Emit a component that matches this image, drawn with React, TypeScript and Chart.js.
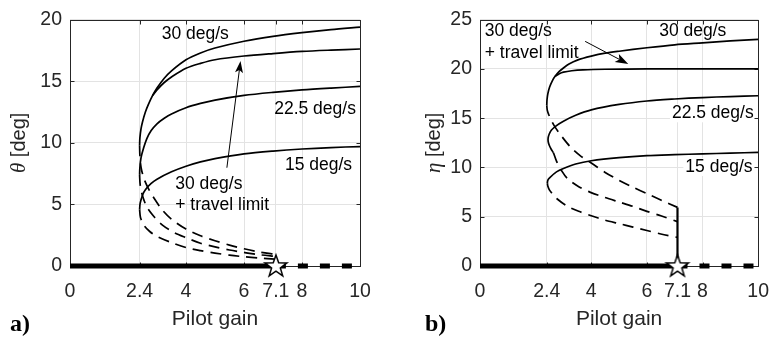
import React, { useEffect, useRef } from "react";
import { Chart, registerables } from "chart.js";

Chart.register(...registerables);

type Pt = [number, number];

// ---------------- shared axis data ----------------
const gainTicks = [0, 2.4, 4, 6, 7.1, 8, 10];
const thetaTicks = [0, 5, 10, 15, 20];
const etaTicks = [0, 5, 10, 15, 20, 25];
const hopfGain = 7.1;

// trivial equilibrium branch (y = 0)
const zeroStable: Pt[] = [[0, 0], [7.1, 0]];
const zeroUnstable: Pt[] = [[7.1, 0], [10, 0]];

// ---------------- panel a : theta ----------------
const thetaStable30: Pt[] = [
  [2.4, 9.8], [2.41, 10.4], [2.45, 11.15], [2.5, 11.7], [2.6, 12.5], [2.7, 13.1],
  [2.85, 13.85], [3.0, 14.45], [3.25, 15.25], [3.5, 15.85], [4, 16.75], [4.5, 17.3],
  [5, 17.7], [6, 18.25], [7, 18.65], [8, 18.95], [9, 19.2], [10, 19.4],
];
const thetaStableTravel: Pt[] = [
  [2.85, 13.85], [3.0, 14.3], [3.25, 14.9], [3.5, 15.35], [4, 16.05], [4.5, 16.45],
  [5, 16.75], [6, 17.05], [7, 17.25], [8, 17.42], [9, 17.53], [10, 17.62],
];
const thetaStable22: Pt[] = [
  [2.4, 7.4], [2.41, 8.0], [2.45, 8.8], [2.54, 9.6], [2.65, 10.35], [2.8, 11.0],
  [3.0, 11.55], [3.25, 12.0], [3.5, 12.35], [4, 12.85], [4.5, 13.2], [5, 13.47],
  [6, 13.85], [7, 14.1], [8, 14.3], [9, 14.45], [10, 14.58],
];
const thetaStable15: Pt[] = [
  [2.4, 4.6], [2.42, 5.1], [2.5, 5.75], [2.6, 6.2], [2.8, 6.7], [3.0, 7.05],
  [3.5, 7.65], [4, 8.1], [4.5, 8.45], [5, 8.72], [6, 9.1], [7, 9.33], [8, 9.5],
  [9, 9.62], [10, 9.7],
];
const thetaUnstable30: Pt[] = [
  [2.4, 9.8], [2.41, 9.0], [2.45, 8.0], [2.55, 7.1], [2.7, 6.3], [2.9, 5.5],
  [3.2, 4.5], [3.5, 3.8], [4, 3.0], [4.5, 2.45], [5, 2.05], [5.5, 1.7], [6, 1.4],
  [6.5, 1.15], [7.1, 0.95],
];
const thetaUnstable22: Pt[] = [
  [2.4, 7.4], [2.42, 6.6], [2.5, 5.7], [2.65, 4.8], [2.9, 4.0], [3.2, 3.3],
  [3.6, 2.7], [4, 2.3], [4.5, 1.85], [5, 1.55], [5.5, 1.3], [6, 1.1], [6.5, 0.92],
  [7.1, 0.78],
];
const thetaUnstable15: Pt[] = [
  [2.4, 4.6], [2.43, 3.95], [2.55, 3.3], [2.75, 2.8], [3.0, 2.4], [3.5, 1.9],
  [4, 1.5], [4.5, 1.25], [5, 1.05], [5.5, 0.88], [6, 0.75], [6.5, 0.65], [7.1, 0.55],
];

// ---------------- panel b : eta ----------------
const etaStable30: Pt[] = [
  [2.4, 16.3], [2.41, 16.9], [2.44, 17.5], [2.5, 18.15], [2.6, 18.8], [2.7, 19.25],
  [2.85, 19.75], [3.0, 20.1], [3.2, 20.5], [3.5, 20.9], [4, 21.3], [4.5, 21.6],
  [5, 21.8], [6, 22.15], [7, 22.45], [8, 22.65], [9, 22.85], [10, 23.0],
];
const etaStableTravel: Pt[] = [
  [2.7, 19.25], [2.85, 19.52], [3.0, 19.68], [3.3, 19.82], [3.7, 19.91], [4.5, 19.97],
  [6, 20], [10, 20],
];
const etaStable22: Pt[] = [
  [2.64, 11.5], [2.56, 11.85], [2.49, 12.25], [2.45, 12.65], [2.45, 13.0], [2.49, 13.4],
  [2.57, 13.8], [2.75, 14.25], [3.0, 14.7], [3.44, 15.3], [4, 15.85], [5, 16.4],
  [6, 16.75], [7, 16.95], [8, 17.1], [9, 17.2], [10, 17.28],
];
const etaStable15: Pt[] = [
  [2.42, 8.4], [2.44, 8.72], [2.52, 9.0], [2.75, 9.55], [3.0, 9.9], [3.44, 10.35],
  [4, 10.68], [5, 11.0], [6, 11.2], [7, 11.3], [8, 11.38], [9, 11.46], [10, 11.53],
];
const etaUnstable30: Pt[] = [
  [2.4, 16.3], [2.42, 15.8], [2.48, 15.3], [2.58, 14.7], [2.7, 14.1], [2.9, 13.3],
  [3.26, 12.05], [3.6, 11.2], [4, 10.45], [4.5, 9.5], [5, 8.7], [5.5, 8.0],
  [6, 7.35], [6.5, 6.7], [7.1, 5.95],
];
const etaUnstable22: Pt[] = [
  [2.64, 11.5], [2.75, 10.65], [2.95, 9.6], [3.15, 8.85], [3.55, 8.05], [3.95, 7.5],
  [4.5, 6.95], [5, 6.5], [5.5, 6.05], [6, 5.55], [6.5, 5.1], [7.1, 4.5],
];
const etaUnstable15: Pt[] = [
  [2.42, 8.4], [2.44, 8.1], [2.5, 7.7], [2.6, 7.35], [2.8, 6.75], [3.15, 6.05],
  [3.6, 5.5], [4, 5.1], [4.5, 4.65], [5, 4.3], [5.5, 3.95], [6, 3.6], [6.5, 3.25],
  [7.1, 2.9],
];
const etaTravelJump: Pt[] = [[7.1, 0], [7.1, 5.95]];

// ---------------- annotation texts ----------------
type Label = { text: string; x: number; y: number; align: "left" | "center"; bg?: boolean };
const thetaLabels: Label[] = [
  { text: "30 deg/s", x: 4.32, y: 18.8, align: "center" },
  { text: "22.5 deg/s", x: 8.45, y: 12.75, align: "center" },
  { text: "15 deg/s", x: 8.57, y: 8.15, align: "center" },
  { text: "30 deg/s", x: 3.63, y: 6.63, align: "left" },
  { text: "+ travel limit", x: 3.63, y: 4.97, align: "left" },
];
const etaLabels: Label[] = [
  { text: "30 deg/s", x: 7.65, y: 23.85, align: "center" },
  { text: "30 deg/s", x: 0.17, y: 23.8, align: "left" },
  { text: "+ travel limit", x: 0.17, y: 21.6, align: "left" },
  { text: "22.5 deg/s", x: 8.37, y: 15.5, align: "center", bg: true },
  { text: "15 deg/s", x: 8.59, y: 10.05, align: "center", bg: true },
];
const thetaArrow: [Pt, Pt] = [[5.41, 7.98], [5.88, 16.65]];
const etaArrow: [Pt, Pt] = [[3.78, 22.8], [5.33, 20.5]];

// ---------------- styling ----------------
const SANS = 'Arial, "Liberation Sans", Helvetica, sans-serif';
const SERIF = '"Times New Roman", "Liberation Serif", serif';
const AXIS_COLOR = "#262626";
const GRID_COLOR = "#e3e3e3";

interface PanelSpec {
  key: string;
  left: number;
  width: number;
  padTop: number;
  padRight: number;
  yAxisWidth: number;
  yMax: number;
  yTicks: number[];
  symbol: string;
  tag: string;
  tagX: number;
  yTitleX: number;
  stable: Pt[][];
  unstable: Pt[][];
  jump: Pt[][];
  labels: Label[];
  arrow: [Pt, Pt];
  headLen: number;
  headHalf: number;
}

const panels: PanelSpec[] = [
  {
    key: "a", left: 0, width: 390, padTop: 13, padRight: 30, yAxisWidth: 70,
    yMax: 20, yTicks: thetaTicks, symbol: "\u03B8", tag: "a)", tagX: 10, yTitleX: 25,
    stable: [thetaStable30, thetaStableTravel, thetaStable22, thetaStable15],
    unstable: [thetaUnstable30, thetaUnstable22, thetaUnstable15],
    jump: [],
    labels: thetaLabels, arrow: thetaArrow, headLen: 12, headHalf: 4,
  },
  {
    key: "b", left: 390, width: 393, padTop: 15, padRight: 12, yAxisWidth: 90,
    yMax: 25, yTicks: etaTicks, symbol: "\u03B7", tag: "b)", tagX: 35, yTitleX: 50,
    stable: [etaStable30, etaStableTravel, etaStable22, etaStable15],
    unstable: [etaUnstable30, etaUnstable22, etaUnstable15],
    jump: [etaTravelJump],
    labels: etaLabels, arrow: etaArrow, headLen: 13, headHalf: 4.5,
  },
];

function makeStar(): HTMLCanvasElement {
  const c = document.createElement("canvas");
  c.width = 30;
  c.height = 30;
  const g = c.getContext("2d")!;
  const cx = 15, cy = 15.5, R = 11.5, r = 4.6;
  g.beginPath();
  for (let i = 0; i < 10; i++) {
    const rad = i % 2 === 0 ? R : r;
    const ang = -Math.PI / 2 + (i * Math.PI) / 5;
    const x = cx + rad * Math.cos(ang);
    const y = cy + rad * Math.sin(ang);
    if (i === 0) g.moveTo(x, y); else g.lineTo(x, y);
  }
  g.closePath();
  g.fillStyle = "#fff";
  g.fill();
  g.lineWidth = 1.5;
  g.strokeStyle = "#000";
  g.lineJoin = "miter";
  g.stroke();
  return c;
}

const toXY = (pts: Pt[]) => pts.map(([x, y]) => ({ x, y }));

function curve(pts: Pt[], dashed: boolean, width = 1.7): any {
  return {
    data: toXY(pts),
    showLine: true,
    borderColor: "#000",
    borderWidth: width,
    borderDash: dashed ? [11, 7] : [],
    pointRadius: 0,
    tension: 0.3,
    fill: false,
  };
}

function decorPlugin(spec: PanelSpec): any {
  return {
    id: "decor" + spec.key,
    beforeDatasetsDraw(chart: any) {
      const { ctx, chartArea: a } = chart;
      const xs = chart.scales.x, ys = chart.scales.y;
      ctx.save();
      ctx.font = `17.5px ${SANS}`;
      ctx.textAlign = "left";
      ctx.textBaseline = "middle";
      for (const l of spec.labels) {
        const w = ctx.measureText(l.text).width;
        const px = xs.getPixelForValue(l.x);
        const py = ys.getPixelForValue(l.y);
        const left = l.align === "left" ? px : px - w / 2;
        if (l.bg) {
          ctx.fillStyle = "#fff";
          ctx.fillRect(left - 2, py - 9, w + 4, 18);
        }
        ctx.fillStyle = "#000";
        ctx.fillText(l.text, left, py);
      }
      const L = Math.round(a.left) + 0.5, R = Math.round(a.right) + 0.5;
      const T = Math.round(a.top) + 0.5, B = Math.round(a.bottom) + 0.5;
      ctx.strokeStyle = AXIS_COLOR;
      ctx.lineWidth = 1;
      ctx.strokeRect(L, T, R - L, B - T);
      ctx.beginPath();
      const tl = 4;
      for (const v of gainTicks) {
        const p = Math.round(xs.getPixelForValue(v)) + 0.5;
        ctx.moveTo(p, B); ctx.lineTo(p, B - tl);
        ctx.moveTo(p, T); ctx.lineTo(p, T + tl);
      }
      for (const v of spec.yTicks) {
        const p = Math.round(ys.getPixelForValue(v)) + 0.5;
        ctx.moveTo(L, p); ctx.lineTo(L + tl, p);
        ctx.moveTo(R, p); ctx.lineTo(R - tl, p);
      }
      ctx.stroke();
      ctx.restore();
    },
    afterDatasetsDraw(chart: any) {
      const { ctx } = chart;
      const xs = chart.scales.x, ys = chart.scales.y;
      const [from, to] = spec.arrow;
      const x0 = xs.getPixelForValue(from[0]), y0 = ys.getPixelForValue(from[1]);
      const x1 = xs.getPixelForValue(to[0]), y1 = ys.getPixelForValue(to[1]);
      const ang = Math.atan2(y1 - y0, x1 - x0);
      const ux = Math.cos(ang), uy = Math.sin(ang);
      const nx = -uy, ny = ux;
      const bx = x1 - ux * spec.headLen, by = y1 - uy * spec.headLen;
      ctx.save();
      ctx.strokeStyle = "#000";
      ctx.fillStyle = "#000";
      ctx.lineWidth = 1;
      ctx.beginPath();
      ctx.moveTo(x0, y0);
      ctx.lineTo(bx + ux * 3, by + uy * 3);
      ctx.stroke();
      ctx.beginPath();
      ctx.moveTo(x1, y1);
      ctx.lineTo(bx + nx * spec.headHalf, by + ny * spec.headHalf);
      ctx.lineTo(bx + ux * 3, by + uy * 3);
      ctx.lineTo(bx - nx * spec.headHalf, by - ny * spec.headHalf);
      ctx.closePath();
      ctx.fill();
      ctx.restore();
    },
    afterDraw(chart: any) {
      const { ctx, chartArea: a } = chart;
      ctx.save();
      ctx.fillStyle = AXIS_COLOR;
      ctx.font = `21px ${SANS}`;
      ctx.textAlign = "center";
      ctx.textBaseline = "alphabetic";
      ctx.fillText("Pilot gain", (a.left + a.right) / 2, 325);
      const symFont = `italic 21px ${SERIF}`;
      const restFont = `20px ${SANS}`;
      ctx.font = symFont;
      const ws = ctx.measureText(spec.symbol).width;
      ctx.font = restFont;
      const wr = ctx.measureText(" [deg]").width;
      const total = ws + wr;
      ctx.translate(spec.yTitleX, (a.top + a.bottom) / 2);
      ctx.rotate(-Math.PI / 2);
      ctx.textAlign = "left";
      ctx.font = symFont;
      ctx.fillText(spec.symbol, -total / 2, 0);
      ctx.font = restFont;
      ctx.fillText(" [deg]", -total / 2 + ws, 0);
      ctx.restore();
      ctx.save();
      ctx.fillStyle = "#000";
      ctx.font = `bold 24px ${SERIF}`;
      ctx.textAlign = "left";
      ctx.textBaseline = "alphabetic";
      ctx.fillText(spec.tag, spec.tagX, 331);
      ctx.restore();
    },
  };
}

function buildConfig(spec: PanelSpec): any {
  const datasets: any[] = [];
  datasets.push({
    data: [{ x: hopfGain, y: 0 }],
    pointStyle: makeStar(),
    pointRadius: 12,
    showLine: false,
    clip: false,
  });
  for (const s of spec.stable) datasets.push(curve(s, false));
  for (const u of spec.unstable) datasets.push(curve(u, true));
  for (const j of spec.jump) datasets.push({ ...curve(j, false, 2.2), tension: 0 });
  datasets.push({ ...curve(zeroStable, false, 5), tension: 0, clip: false });
  datasets.push({ ...curve(zeroUnstable, false, 5), borderDash: [10, 12], tension: 0, clip: false });

  return {
    type: "scatter",
    data: { datasets },
    options: {
      animation: false,
      responsive: false,
      devicePixelRatio: 1,
      events: [],
      layout: { padding: { top: spec.padTop, right: spec.padRight, left: 0, bottom: 0 } },
      plugins: { legend: { display: false }, tooltip: { enabled: false } },
      scales: {
        x: {
          type: "linear",
          min: 0,
          max: 10,
          afterBuildTicks: (s: any) => { s.ticks = gainTicks.map((v) => ({ value: v })); },
          afterFit: (s: any) => { s.height = 73; },
          grid: { color: GRID_COLOR, lineWidth: 1, drawTicks: false },
          border: { display: false },
          ticks: {
            autoSkip: false,
            maxRotation: 0,
            padding: 14,
            color: AXIS_COLOR,
            font: { family: SANS, size: 19.5 },
            callback: (v: any) => String(v),
          },
        },
        y: {
          type: "linear",
          min: 0,
          max: spec.yMax,
          afterBuildTicks: (s: any) => { s.ticks = spec.yTicks.map((v) => ({ value: v })); },
          afterFit: (s: any) => { s.width = spec.yAxisWidth; },
          grid: { color: GRID_COLOR, lineWidth: 1, drawTicks: false },
          border: { display: false },
          ticks: {
            padding: 8,
            color: AXIS_COLOR,
            font: { family: SANS, size: 19.5 },
            callback: (v: any) => String(v),
          },
        },
      },
    },
    plugins: [decorPlugin(spec)],
  };
}

function Panel({ spec }: { spec: PanelSpec }) {
  const ref = useRef<HTMLCanvasElement>(null);
  useEffect(() => {
    const canvas = ref.current;
    if (!canvas) return;
    const chart = new Chart(canvas, buildConfig(spec));
    return () => chart.destroy();
  }, [spec]);
  return (
    <canvas
      ref={ref}
      width={spec.width}
      height={339}
      style={{ position: "absolute", left: spec.left, top: 0, width: spec.width, height: 339 }}
    />
  );
}

export default function App() {
  return (
    <div
      style={{
        position: "absolute",
        left: 0,
        top: 0,
        width: 783,
        height: 339,
        background: "#fff",
        overflow: "hidden",
      }}
    >
      {panels.map((p) => (
        <Panel key={p.key} spec={p} />
      ))}
    </div>
  );
}
